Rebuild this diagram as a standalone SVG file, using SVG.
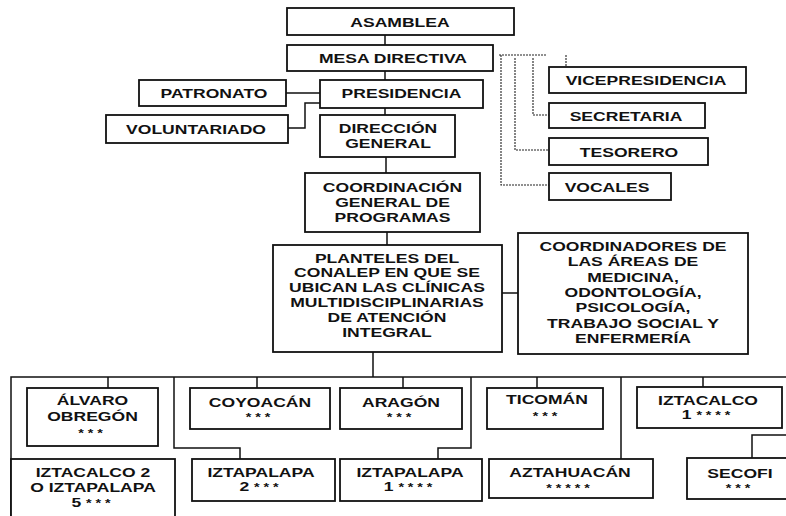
<svg xmlns="http://www.w3.org/2000/svg" width="786" height="516" viewBox="0 0 786 516">
<style>
.b{fill:#fff;stroke:#111;stroke-width:1.8}
.t{font-family:"Liberation Sans",Arial,sans-serif;font-weight:bold;font-size:13.5px;text-anchor:middle;fill:#111}
.s{font-size:11px;letter-spacing:3px}
.c{fill:none;stroke:#111;stroke-width:1.5}
.d{fill:none;stroke:#222;stroke-width:1.1;stroke-dasharray:2 1}
</style>
<rect width="786" height="516" fill="#fff"/>
<g id="connectors">
<path class="c" d="M385,35V45M385,71V80M385,108V115M386,157V173M387,232V245"/>
<path class="c" d="M286,93H320M288,128H305V103H320"/>
<path class="c" d="M502,293H518M373,352V377"/>
<path class="c" d="M11,520V377H790M108,377V388M257,377V388M403,377V388M537,377V388M703,377V387"/>
<path class="c" d="M174,377V448H240V459M471,377V448H438V459M621,377V459M790,435H752V458"/>
<path class="d" d="M499,55H547M566,55V67M501,55V185H549M515,58V150H549M533,58V115H549"/>
</g>
<g id="asamblea"><rect class="b" x="287" y="8" width="227" height="27"/><text class="t" transform="translate(400,0) scale(1.3,1)"><tspan x="0" y="27">ASAMBLEA</tspan></text></g>
<g id="mesa"><rect class="b" x="287" y="45" width="206" height="26"/><text class="t" transform="translate(393,0) scale(1.3,1)"><tspan x="0" y="63">MESA DIRECTIVA</tspan></text></g>
<g id="presidencia"><rect class="b" x="320" y="80" width="163" height="28"/><text class="t" transform="translate(401.5,0) scale(1.3,1)"><tspan x="0" y="98">PRESIDENCIA</tspan></text></g>
<g id="patronato"><rect class="b" x="139" y="80" width="147" height="26"/><text class="t" transform="translate(214,0) scale(1.3,1)"><tspan x="0" y="98">PATRONATO</tspan></text></g>
<g id="voluntariado"><rect class="b" x="106" y="115" width="182" height="28"/><text class="t" transform="translate(196,0) scale(1.3,1)"><tspan x="0" y="134">VOLUNTARIADO</tspan></text></g>
<g id="direccion"><rect class="b" x="320" y="115" width="135" height="42"/><text class="t" transform="translate(388,0) scale(1.3,1)"><tspan x="0" y="133">DIRECCIÓN</tspan><tspan x="0" y="148">GENERAL</tspan></text></g>
<g id="vicepresidencia"><rect class="b" x="549" y="67" width="197" height="26"/><text class="t" transform="translate(646,0) scale(1.3,1)"><tspan x="0" y="85">VICEPRESIDENCIA</tspan></text></g>
<g id="secretaria"><rect class="b" x="549" y="103" width="156" height="25"/><text class="t" transform="translate(626,0) scale(1.3,1)"><tspan x="0" y="121">SECRETARIA</tspan></text></g>
<g id="tesorero"><rect class="b" x="549" y="138" width="159" height="27"/><text class="t" transform="translate(629,0) scale(1.3,1)"><tspan x="0" y="157">TESORERO</tspan></text></g>
<g id="vocales"><rect class="b" x="549" y="173" width="122" height="27"/><text class="t" transform="translate(607,0) scale(1.3,1)"><tspan x="0" y="192">VOCALES</tspan></text></g>
<g id="coordinacion"><rect class="b" x="305" y="173" width="175" height="59"/><text class="t" transform="translate(392.5,0) scale(1.3,1)"><tspan x="0" y="192">COORDINACIÓN</tspan><tspan x="0" y="207">GENERAL DE</tspan><tspan x="0" y="222">PROGRAMAS</tspan></text></g>
<g id="planteles"><rect class="b" x="273" y="245" width="229" height="107"/><text class="t" transform="translate(387,0) scale(1.3,1)"><tspan x="0" y="263">PLANTELES DEL</tspan><tspan x="0" y="277.5">CONALEP EN QUE SE</tspan><tspan x="0" y="292">UBICAN LAS CLÍNICAS</tspan><tspan x="0" y="307">MULTIDISCIPLINARIAS</tspan><tspan x="0" y="322">DE ATENCIÓN</tspan><tspan x="0" y="337">INTEGRAL</tspan></text></g>
<g id="coordinadores"><rect class="b" x="518" y="233" width="230" height="121"/><text class="t" transform="translate(633,0) scale(1.3,1)"><tspan x="0" y="251">COORDINADORES DE</tspan><tspan x="0" y="266.5">LAS ÁREAS DE</tspan><tspan x="0" y="282">MEDICINA,</tspan><tspan x="0" y="297">ODONTOLOGÍA,</tspan><tspan x="0" y="312.5">PSICOLOGÍA,</tspan><tspan x="0" y="328">TRABAJO SOCIAL Y</tspan><tspan x="0" y="343">ENFERMERÍA</tspan></text></g>
<g id="alvaro"><rect class="b" x="27" y="388" width="131" height="58"/><text class="t" transform="translate(92.5,0) scale(1.3,1)"><tspan x="0" y="405.5">ÁLVARO</tspan><tspan x="0" y="421">OBREGÓN</tspan><tspan x="0" y="437" class="s">***</tspan></text></g>
<g id="coyoacan"><rect class="b" x="190" y="388" width="140" height="41"/><text class="t" transform="translate(260,0) scale(1.3,1)"><tspan x="0" y="407">COYOACÁN</tspan><tspan x="0" y="421" class="s">***</tspan></text></g>
<g id="aragon"><rect class="b" x="340" y="388" width="122" height="41"/><text class="t" transform="translate(401,0) scale(1.3,1)"><tspan x="0" y="407">ARAGÓN</tspan><tspan x="0" y="421" class="s">***</tspan></text></g>
<g id="ticoman"><rect class="b" x="487" y="388" width="116" height="41"/><text class="t" transform="translate(547,0) scale(1.3,1)"><tspan x="0" y="404">TICOMÁN</tspan><tspan x="0" y="420" class="s">***</tspan></text></g>
<g id="iztacalco1"><rect class="b" x="637" y="387" width="145" height="41"/><text class="t" transform="translate(708,0) scale(1.3,1)"><tspan x="0" y="405">IZTACALCO</tspan><tspan x="0" y="419">1 <tspan class="s">****</tspan></tspan></text></g>
<g id="iztacalco2"><rect class="b" x="11" y="459" width="164" height="70"/><text class="t" transform="translate(93,0) scale(1.3,1)"><tspan x="0" y="477">IZTACALCO 2</tspan><tspan x="0" y="492">O IZTAPALAPA</tspan><tspan x="0" y="507">5 <tspan class="s">***</tspan></tspan></text></g>
<g id="iztapalapa2"><rect class="b" x="192" y="459" width="143" height="42"/><text class="t" transform="translate(261,0) scale(1.3,1)"><tspan x="0" y="477">IZTAPALAPA</tspan><tspan x="0" y="491">2 <tspan class="s">***</tspan></tspan></text></g>
<g id="iztapalapa1"><rect class="b" x="340" y="459" width="142" height="42"/><text class="t" transform="translate(410,0) scale(1.3,1)"><tspan x="0" y="477">IZTAPALAPA</tspan><tspan x="0" y="491">1 <tspan class="s">****</tspan></tspan></text></g>
<g id="aztahuacan"><rect class="b" x="489" y="459" width="164" height="39"/><text class="t" transform="translate(570,0) scale(1.3,1)"><tspan x="0" y="477">AZTAHUACÁN</tspan><tspan x="0" y="492" class="s">*****</tspan></text></g>
<g id="secofi"><rect class="b" x="687" y="458" width="112" height="41"/><text class="t" transform="translate(740,0) scale(1.3,1)"><tspan x="0" y="478">SECOFI</tspan><tspan x="0" y="492" class="s">***</tspan></text></g>
</svg>
